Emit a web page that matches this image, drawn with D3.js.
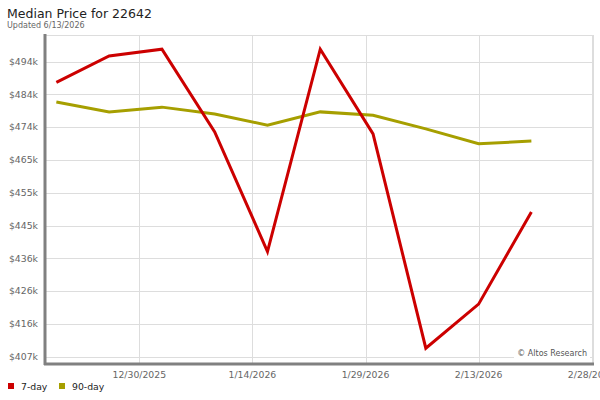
<!DOCTYPE html>
<html><head><meta charset="utf-8">
<script src="https://cdn.jsdelivr.net/npm/d3@7"></script>
<style>
body{margin:0;background:#fff;}
svg{display:block;font-family:"DejaVu Sans",Verdana,sans-serif;}
</style></head>
<body><svg id="c" width="600" height="400"></svg>
<script>
const dates = ["2025-12-19","2025-12-26","2026-01-02","2026-01-09","2026-01-16","2026-01-23","2026-01-30","2026-02-06","2026-02-13","2026-02-20"];
const sevenDay = [487.6,495.4,497.4,473.0,437.7,497.4,472.4,409.2,422.2,449.4];
const ninetyDay = [481.8,478.9,480.3,478.3,475.0,478.9,477.9,473.9,469.5,470.3];
const yTickValues = [406.7,416.37,426.03,435.7,445.37,455.03,464.7,474.37,484.03,493.7];
const yTickLabels = ["$407k","$416k","$426k","$436k","$445k","$455k","$465k","$474k","$484k","$494k"];
const xTickDates = ["2025-12-30","2026-01-14","2026-01-29","2026-02-13","2026-02-28"];
const xTickLabels = ["12/30/2025","1/14/2026","1/29/2026","2/13/2026","2/28/2026"];
const seriesNames = ["7-day","90-day"];
const seriesColors = ["#cc0000","#a69f00"];

const parse = d3.timeParse("%Y-%m-%d");
const svg = d3.select("#c");
const L = 46, R = 593, T = 35, B = 363;

const x = d3.scaleTime().domain([parse("2025-12-30"), parse("2026-02-28")]).range([139.3, 591.7]);
const y = d3.scaleLinear().domain([406.7, 493.7]).range([356.7, 61.7]);

// title
svg.append("text").attr("x",7).attr("y",18).attr("font-size","12.5px").attr("fill","#222").text("Median Price for 22642");
svg.append("text").attr("x",7).attr("y",28).attr("font-size","8px").attr("fill","#666").text("Updated 6/13/2026");

// grid
const g = svg.append("g");
g.append("line").attr("x1",L).attr("x2",R).attr("y1",T+0.5).attr("y2",T+0.5).attr("stroke","#ddd");
g.append("line").attr("x1",R+0.5).attr("x2",R+0.5).attr("y1",T).attr("y2",B).attr("stroke","#ddd");
g.selectAll(".hg").data(yTickValues).join("line")
  .attr("x1",L).attr("x2",R)
  .attr("y1",d=>Math.round(y(d))+0.5).attr("y2",d=>Math.round(y(d))+0.5)
  .attr("stroke","#ddd");
g.selectAll(".vg").data(xTickDates).join("line")
  .attr("x1",d=>Math.round(x(parse(d)))+0.5).attr("x2",d=>Math.round(x(parse(d)))+0.5)
  .attr("y1",T).attr("y2",B).attr("stroke","#ddd");

// y labels
g.selectAll(".yl").data(yTickValues).join("text")
  .attr("x",38).attr("y",d=>y(d)).attr("dy","0.35em").attr("text-anchor","end")
  .attr("font-size","9.3px").attr("fill","#666")
  .text((d,i)=>yTickLabels[i]);
// x labels
g.selectAll(".xl").data(xTickDates).join("text")
  .attr("x",d=>x(parse(d))).attr("y",378).attr("text-anchor","middle")
  .attr("font-size","9.3px").attr("fill","#666")
  .text((d,i)=>xTickLabels[i]);

// watermark
const wm = svg.append("g");
wm.append("rect").attr("x",514).attr("y",347).attr("width",76).attr("height",12).attr("fill","#fff");
wm.append("text").attr("x",587).attr("y",356).attr("text-anchor","end").attr("font-size","8px").attr("fill","#555").text("\u00a9 Altos Research");

// lines
const series = [sevenDay, ninetyDay];
const line = d3.line().x((d,i)=>x(parse(dates[i]))).y(d=>y(d));
[1,0].forEach(k=>{
  svg.append("path").datum(series[k]).attr("d",line)
    .attr("fill","none").attr("stroke",seriesColors[k]).attr("stroke-width",3)
    .attr("stroke-linejoin","miter");
});

// axes frame
svg.append("line").attr("x1",45).attr("x2",45).attr("y1",T-1).attr("y2",B+2).attr("stroke","#808080").attr("stroke-width",3);
svg.append("line").attr("x1",44).attr("x2",R+1).attr("y1",B+1).attr("y2",B+1).attr("stroke","#808080").attr("stroke-width",3);

// legend
const lg = svg.append("g");
seriesNames.forEach((n,i)=>{
  const ox = i===0 ? 8 : 59;
  lg.append("rect").attr("x",ox).attr("y",383).attr("width",6).attr("height",6).attr("fill",seriesColors[i]);
  lg.append("text").attr("x",ox+13).attr("y",390).attr("font-size","9.3px").attr("fill","#222").text(n);
});
</script></body></html>
